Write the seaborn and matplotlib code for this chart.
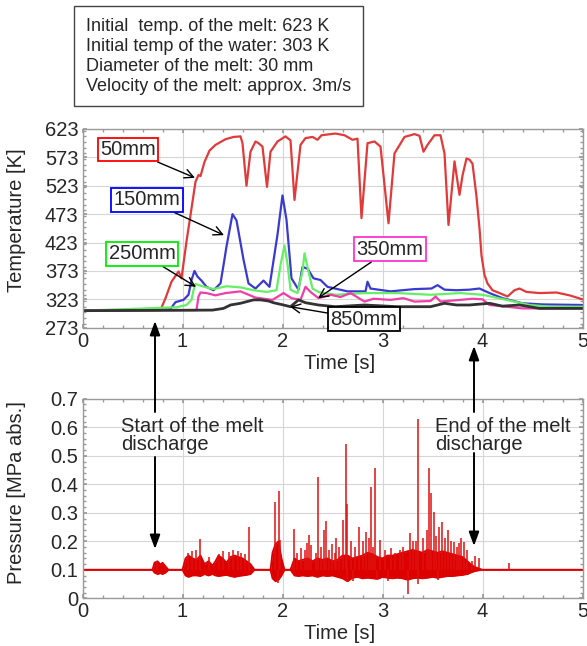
import numpy as np
import matplotlib
matplotlib.use("Agg")
import matplotlib.pyplot as plt
from matplotlib.ticker import MultipleLocator
import seaborn as sns

# temperature traces (time [s], temperature [K])
t50 = [0, 0.78, 0.83, 0.89, 0.96, 0.99, 1.04, 1.09, 1.13, 1.16, 1.18, 1.22, 1.27, 1.33, 1.43, 1.51,
       1.58, 1.60, 1.64, 1.68, 1.73, 1.76, 1.80, 1.845, 1.88, 1.95, 2.03, 2.08, 2.12, 2.18, 2.23,
       2.30, 2.35, 2.39, 2.53, 2.62, 2.70, 2.75, 2.79, 2.85, 2.92, 2.98, 3.06, 3.12, 3.22, 3.32,
       3.37, 3.41, 3.45, 3.52, 3.58, 3.62, 3.66, 3.72, 3.77, 3.80, 3.84, 3.87, 3.90, 3.94, 3.97,
       3.99, 4.02, 4.05, 4.10, 4.17, 4.25, 4.32, 4.37, 4.44, 4.57, 4.74, 4.87, 5.0]
T50 = [303, 304, 325, 354, 372, 360, 425, 483, 530, 542, 540, 565, 585, 595, 605, 609,
       610, 598, 523, 583, 601, 598, 592, 521, 583, 601, 610, 603, 498, 595, 607,
       609, 604, 612, 615, 612, 604, 606, 466, 598, 601, 592, 457, 580, 609, 614,
       611, 583, 595, 612, 612, 580, 454, 566, 507, 541, 571, 569, 562, 504, 448,
       400, 366, 351, 339, 334, 328, 339, 342, 336, 334, 335, 330, 323]

t150 = [0, 0.875, 0.93, 1.01, 1.06, 1.09, 1.12, 1.15, 1.19, 1.24, 1.31, 1.38, 1.41, 1.44, 1.50,
        1.54, 1.61, 1.66, 1.73, 1.81, 1.87, 1.95, 2.00, 2.04, 2.09, 2.16, 2.20, 2.25, 2.31, 2.38,
        2.45, 2.65, 2.83, 2.85, 2.88, 3.08, 3.32, 3.49, 3.55, 3.62, 3.74, 3.87, 3.97, 4.07, 4.20,
        4.40, 4.60, 5.0]
T150 = [303, 305, 318, 322, 331, 357, 373, 363, 356, 345, 339, 351, 383, 416, 473,
        462, 393, 351, 342, 356, 345, 437, 506, 463, 360, 340, 380, 377, 360, 357,
        345, 337, 337, 354, 342, 337, 341, 342, 348, 340, 339, 340, 342, 334, 325,
        316, 314, 313]

t250 = [0, 0.94, 1.04, 1.09, 1.11, 1.13, 1.18, 1.24, 1.31, 1.44, 1.58, 1.71, 1.84, 1.94, 1.98,
        2.02, 2.05, 2.08, 2.15, 2.20, 2.22, 2.26, 2.30, 2.36, 2.53, 2.82, 3.15, 3.48, 3.78, 4.00,
        4.24, 4.47, 4.67, 5.0]
T250 = [303, 309, 313, 322, 339, 350, 347, 344, 341, 346, 344, 339, 336, 339, 383,
        418, 385, 340, 334, 372, 404, 372, 342, 336, 331, 334, 334, 331, 334, 331,
        322, 313, 310, 310]

t350 = [0, 1.14, 1.16, 1.18, 1.24, 1.33, 1.43, 1.58, 1.73, 1.90, 2.01, 2.09, 2.18, 2.23, 2.28,
        2.36, 2.48, 2.58, 2.68, 2.82, 2.91, 3.08, 3.21, 3.32, 3.48, 3.53, 3.58, 3.78, 3.90, 4.00,
        4.07, 4.24, 4.40, 5.0]
T350 = [303, 304, 328, 335, 334, 330, 334, 337, 326, 322, 334, 325, 322, 345, 336,
        325, 331, 327, 334, 319, 324, 322, 325, 319, 320, 328, 319, 322, 324, 323,
        313, 310, 307, 307]

t850 = [0, 1.30, 1.41, 1.48, 1.58, 1.71, 1.78, 1.86, 1.91, 2.01, 2.08, 2.16, 2.23, 2.36, 2.53,
        2.82, 3.15, 3.48, 3.62, 3.74, 3.87, 4.07, 4.20, 4.37, 4.57, 5.0]
T850 = [303, 304, 307, 313, 316, 322, 322, 320, 317, 313, 310, 322, 317, 313, 310,
        313, 310, 310, 316, 313, 313, 316, 311, 313, 307, 307]

# pressure: envelope of the noisy bursts plus individual spikes [MPa abs.]
env_t = [0, 0.70, 0.72, 0.75, 0.78, 0.80, 0.83, 0.86, 1.00, 1.03, 1.06, 1.10, 1.14, 1.18, 1.22,
         1.26, 1.30, 1.33, 1.36, 1.40, 1.44, 1.48, 1.52, 1.56, 1.60, 1.64, 1.68, 1.72, 1.88, 1.90,
         1.93, 1.96, 1.99, 2.02, 2.08, 2.12, 2.16, 2.20, 2.25, 2.30, 2.35, 2.40, 2.45, 2.50, 2.55,
         2.60, 2.65, 2.70, 2.75, 2.80, 2.85, 2.90, 2.95, 3.00, 3.05, 3.10, 3.15, 3.20, 3.25, 3.30,
         3.35, 3.40, 3.45, 3.50, 3.55, 3.60, 3.65, 3.70, 3.75, 3.80, 3.85, 3.88, 3.92, 3.96, 4.00, 5.0]
env_hi = [0.10, 0.10, 0.125, 0.13, 0.118, 0.125, 0.112, 0.10, 0.10, 0.14, 0.15, 0.14, 0.135, 0.15, 0.12,
          0.13, 0.115, 0.13, 0.15, 0.14, 0.125, 0.145, 0.15, 0.145, 0.14, 0.13, 0.12, 0.10, 0.10, 0.16,
          0.19, 0.20, 0.14, 0.10, 0.10, 0.14, 0.13, 0.135, 0.14, 0.13, 0.14, 0.135, 0.14, 0.13, 0.135,
          0.15, 0.15, 0.14, 0.145, 0.15, 0.16, 0.155, 0.145, 0.14, 0.15, 0.15, 0.155, 0.16, 0.165, 0.17,
          0.165, 0.16, 0.17, 0.165, 0.16, 0.165, 0.16, 0.155, 0.15, 0.145, 0.13, 0.12, 0.11, 0.105, 0.10, 0.10]
env_lo = [0.10, 0.10, 0.09, 0.085, 0.088, 0.085, 0.09, 0.10, 0.10, 0.08, 0.075, 0.08, 0.08, 0.078, 0.085,
          0.08, 0.085, 0.08, 0.078, 0.08, 0.082, 0.078, 0.075, 0.078, 0.08, 0.082, 0.085, 0.10, 0.10, 0.07,
          0.06, 0.065, 0.08, 0.10, 0.10, 0.08, 0.078, 0.08, 0.078, 0.08, 0.075, 0.08, 0.078, 0.08, 0.075,
          0.07, 0.06, 0.072, 0.075, 0.07, 0.072, 0.07, 0.068, 0.075, 0.072, 0.07, 0.072, 0.07, 0.065, 0.07,
          0.072, 0.07, 0.072, 0.075, 0.072, 0.075, 0.078, 0.078, 0.08, 0.082, 0.085, 0.09, 0.095, 0.098, 0.10, 0.10]
spike_t = [0.74, 1.17, 1.36, 1.46, 1.66, 1.92, 1.96, 1.975, 2.115, 2.18, 2.24, 2.26, 2.28, 2.35, 2.41,
           2.43, 2.49, 2.535, 2.60, 2.63, 2.645, 2.765, 2.835, 2.88, 2.925, 2.975, 3.08, 3.175, 3.25,
           3.275, 3.335, 3.355, 3.465, 3.48, 3.515, 3.595, 3.65, 3.71, 3.76, 3.81, 3.89, 3.965, 4.26,
           2.64, 2.94, 1.95,
           1.05, 1.09, 1.13, 1.26, 1.40, 1.50, 1.55, 1.58, 1.62, 2.14, 2.22, 2.33, 2.38, 2.46, 2.52,
           2.56, 2.68, 2.72, 2.80, 2.86, 2.90, 3.02, 3.12, 3.20, 3.30, 3.40, 3.44, 3.53, 3.56, 3.62,
           3.68, 3.74, 3.78, 3.84, 3.92, 2.70, 3.05, 3.35, 3.55]
spike_p = [0.13, 0.207, 0.155, 0.161, 0.251, 0.339, 0.376, 0.205, 0.242, 0.175, 0.193, 0.222, 0.187, 0.427, 0.24,
           0.27, 0.19, 0.21, 0.275, 0.541, 0.331, 0.25, 0.234, 0.392, 0.456, 0.205, 0.175, 0.17, 0.015,
           0.228, 0.202, 0.628, 0.456, 0.368, 0.304, 0.269, 0.24, 0.199, 0.195, 0.199, 0.13, 0.14, 0.125,
           0.058, 0.07, 0.055,
           0.16, 0.165, 0.17, 0.145, 0.165, 0.17, 0.165, 0.16, 0.155, 0.16, 0.17, 0.16, 0.18, 0.17, 0.16,
           0.18, 0.20, 0.18, 0.20, 0.21, 0.18, 0.17, 0.16, 0.18, 0.20, 0.21, 0.24, 0.22, 0.25, 0.21,
           0.20, 0.18, 0.21, 0.17, 0.15, 0.06, 0.06, 0.05, 0.065]

temp_ticks = [273, 323, 373, 423, 473, 523, 573, 623]
pres_ticks = [0, 0.1, 0.2, 0.3, 0.4, 0.5, 0.6, 0.7]
pres_ticklabels = ["0", "0.1", "0.2", "0.3", "0.4", "0.5", "0.6", "0.7"]
time_ticks = [0, 1, 2, 3, 4, 5]

conditions = ("Initial  temp. of the melt: 623 K\n"
              "Initial temp of the water: 303 K\n"
              "Diameter of the melt: 30 mm\n"
              "Velocity of the melt: approx. 3m/s")

sns.set_theme(style="whitegrid")
plt.rcParams["font.family"] = ["Liberation Sans", "DejaVu Sans"]

W, H = 587, 646
fig = plt.figure(figsize=(W / 100, H / 100), dpi=100)


def fp(x, y):
    # pixel position (from top-left) -> figure fraction
    return (x / W, 1 - y / H)


ax1 = fig.add_axes([82.5 / W, 1 - 327.7 / H, 500 / W, 198.7 / H])
ax2 = fig.add_axes([82.5 / W, 1 - 598.3 / H, 500 / W, 199.5 / H])

FS = 14.5
for ax in (ax1, ax2):
    ax.set_facecolor("white")
    ax.grid(True, which="major", color="#d6d6d6", lw=0.8)
    for sp in ax.spines.values():
        sp.set_color("#9a9a9a")
        sp.set_linewidth(1.0)
    ax.set_xlim(0, 5)
    ax.set_xticks(time_ticks)
    ax.xaxis.set_minor_locator(MultipleLocator(0.2))
    ax.tick_params(which="both", direction="in", color="#9a9a9a", top=True, right=True,
                   bottom=True, left=True, labelsize=FS, pad=3)
    ax.tick_params(which="major", length=3)
    ax.tick_params(which="minor", length=2)

# temperatures
traces = [(t50, T50, "#e03a3a"), (t150, T150, "#3a3ad0"), (t250, T250, "#66ee66"),
          (t350, T350, "#ee3fa8"), (t850, T850, "#333333")]
for tt, TT, col in traces:
    sns.lineplot(x=tt, y=TT, ax=ax1, color=col, lw=1.6 if col != "#333333" else 2.0,
                 estimator=None, sort=False)
ax1.set_ylim(273, 623)
ax1.set_yticks(temp_ticks)
ax1.yaxis.set_minor_locator(MultipleLocator(10))
ax1.set_ylabel("Temperature [K]", fontsize=FS)
ax1.set_xlabel("Time [s]", fontsize=FS)
ax1.yaxis.set_label_coords(-0.112, 0.54)
ax1.xaxis.set_label_coords(0.514, -0.13)

labels = [("50mm", "#ff0000", (0.454, 587), (1.125, 537)),
          ("150mm", "#0000ff", (0.644, 498), (1.415, 436)),
          ("250mm", "#00ee00", (0.597, 403), (1.135, 345)),
          ("350mm", "#ff33cc", (3.075, 411), (2.355, 325)),
          ("850mm", "#000000", (2.815, 288), (2.075, 310))]
for txt, col, xyt, xy in labels:
    ax1.annotate(txt, xy=xy, xytext=xyt, ha="center", va="center", fontsize=FS,
                 annotation_clip=False,
                 bbox=dict(boxstyle="square,pad=0.12", fc="white", ec=col, lw=1.3),
                 arrowprops=dict(arrowstyle="->", color="black", lw=1.0, shrinkA=0, shrinkB=0,
                                 mutation_scale=16))

# pressure
ax2.fill_between(env_t, env_lo, env_hi, color="#dd0000", lw=0)
sns.lineplot(x=env_t, y=env_hi, ax=ax2, color="#dd0000", lw=1.3, estimator=None, sort=False)
sns.lineplot(x=env_t, y=env_lo, ax=ax2, color="#dd0000", lw=1.3, estimator=None, sort=False)
ax2.vlines(spike_t, 0.1, spike_p, color="#e01010", lw=1.1)
ax2.set_ylim(0, 0.7)
ax2.set_yticks(pres_ticks)
ax2.set_yticklabels(pres_ticklabels)
ax2.yaxis.set_minor_locator(MultipleLocator(0.02))
ax2.set_ylabel("Pressure [MPa abs.]", fontsize=FS)
ax2.set_xlabel("Time [s]", fontsize=FS)
ax2.yaxis.set_label_coords(-0.112, 0.53)
ax2.xaxis.set_label_coords(0.514, -0.13)

# condition box
fig.text(*fp(86, 18), conditions, ha="left", va="top", fontsize=13, linespacing=1.22,
         bbox=dict(boxstyle="square,pad=0.65", fc="white", ec="#444444", lw=1.0))

# discharge markers between the panels
arrow_kw = dict(arrowstyle="-|>,head_length=0.6,head_width=0.22", color="black", lw=1.4,
                shrinkA=0, shrinkB=0, mutation_scale=14)
for tail, tip in [((155, 412), (155, 321)), ((155, 457), (155, 549)),
                  ((474, 412), (474, 346)), ((474, 453), (474, 546))]:
    ax2.annotate("", xy=fp(*tip), xytext=fp(*tail), xycoords="figure fraction",
                 textcoords="figure fraction", arrowprops=arrow_kw, annotation_clip=False)
fig.text(*fp(121, 417), "Start of the melt\ndischarge", ha="left", va="top", fontsize=FS,
         linespacing=0.95)
fig.text(*fp(435, 417), "End of the melt\ndischarge", ha="left", va="top", fontsize=FS,
         linespacing=0.95)

fig.savefig("out.png", dpi=100)
